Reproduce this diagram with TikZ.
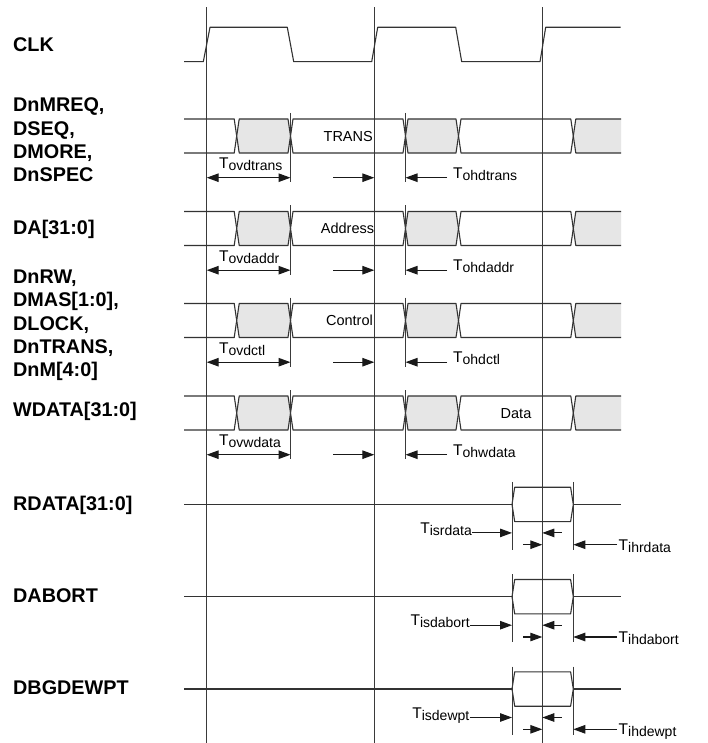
\documentclass[tikz,border=0pt]{standalone}
\usepackage{fontspec}
\setmainfont{Liberation Sans}
\usetikzlibrary{arrows.meta}
\definecolor{wave}{HTML}{333333}
\definecolor{busgray}{HTML}{E6E6E6}
\definecolor{guide}{HTML}{3A3A3A}
\newcommand\Tsub[1]{T\raisebox{-2pt}{\fontsize{14}{16}\selectfont #1}}
\begin{document}
\begin{tikzpicture}[x=1pt,y=-1pt,
  sig/.style={font=\fontsize{19.8}{23.3}\selectfont\bfseries, inner sep=0pt, align=left},
  wv/.style={draw=wave, line width=1.1pt, line join=round},
  guideline/.style={draw=guide, line width=0.9pt},
  tip/.tip={Triangle[length=12pt,width=8.5pt]},
  dim/.style={draw=black!90, line width=1.1pt, -tip},
  dimboth/.style={draw=black!90, line width=1.1pt, tip-tip},
  tlab/.style={inner sep=0pt, font=\fontsize{15.5}{18}\selectfont},
  val/.style={inner sep=0pt, font=\fontsize{14.5}{17}\selectfont},
]
\fill[white] (0,0) rectangle (707,743);
\useasboundingbox (0,0) rectangle (707,743);

% clock edge reference lines
\foreach \x/\n in {206.7/1,374.3/2,542.3/3}{
  \coordinate (ct\n) at (\x,7.3);
  \coordinate (cb\n) at (\x,743);
  \draw[guideline] (ct\n) -- (cb\n);
}

% signal names
\node[sig, anchor=base west] (lclk) at (13,52) {CLK};
\node[sig, anchor=north west] (lreq) at (13,97.7) {DnMREQ,\\DSEQ,\\DMORE,\\DnSPEC};
\node[sig, anchor=base west] (lda) at (13,234) {DA[31:0]};
\node[sig, anchor=north west] (lrw) at (13,269.7) {DnRW,\\DMAS[1:0],\\DLOCK,\\DnTRANS,\\DnM[4:0]};
\node[sig, anchor=base west] (lwd) at (13,416) {WDATA[31:0]};
\node[sig, anchor=base west] (lrd) at (13,510.7) {RDATA[31:0]};
\node[sig, anchor=base west] (lab) at (13,602.7) {DABORT};
\node[sig, anchor=base west] (ldbg) at (13,694) {DBGDEWPT};

% CLK waveform
\draw[wv] (184,61.7) -- (203.3,61.7) -- (210,27.3) -- (287.3,27.3) -- (293.7,61.7)
  -- (371.7,61.7) -- (377.7,27.3) -- (455.7,27.3) -- (461.7,61.7)
  -- (540,61.7) -- (545.7,27.3) -- (620.7,27.3);

% bus rows
\foreach \yt/\ov/\oh [count=\i] in {119/ovdtrans/ohdtrans, 211.5/ovdaddr/ohdaddr, 303.5/ovdctl/ohdctl, 396/ovwdata/ohwdata}{
  \pgfmathsetmacro\ym{\yt+17}
  \pgfmathsetmacro\yb{\yt+34}
  \pgfmathsetmacro\ya{\yt+58.7}
  \pgfmathsetmacro\tt{\yt-6}
  \pgfmathsetmacro\tb{\yt+63}
  \draw[wv] (184,\yt) -- (234.2,\yt) -- (236.7,\ym) -- (234.2,\yb) -- (184,\yb);
  \filldraw[wv, fill=busgray] (236.7,\ym) -- (239.2,\yt) -- (288,\yt) -- (290.5,\ym) -- (288,\yb) -- (239.2,\yb) -- cycle;
  \draw[wv] (290.5,\ym) -- (293,\yt) -- (403,\yt) -- (405.5,\ym) -- (403,\yb) -- (293,\yb) -- cycle;
  \filldraw[wv, fill=busgray] (405.5,\ym) -- (408,\yt) -- (456,\yt) -- (458.5,\ym) -- (456,\yb) -- (408,\yb) -- cycle;
  \draw[wv] (458.5,\ym) -- (461,\yt) -- (570.8,\yt) -- (573.3,\ym) -- (570.8,\yb) -- (461,\yb) -- cycle;
  \fill[busgray] (621,\yt) -- (575.8,\yt) -- (573.3,\ym) -- (575.8,\yb) -- (621,\yb) -- cycle;
  \draw[wv] (621,\yt) -- (575.8,\yt) -- (573.3,\ym) -- (575.8,\yb) -- (621,\yb);
  % timing ticks
  \coordinate (tkA\i) at (290.5,\tt); \coordinate (tkAb\i) at (290.5,\tb);
  \coordinate (tkB\i) at (405.5,\tt); \coordinate (tkBb\i) at (405.5,\tb);
  \draw[guideline] (tkA\i) -- (tkAb\i);
  \draw[guideline] (tkB\i) -- (tkBb\i);
  % timing arrows
  \coordinate (ovL\i) at (206.7,\ya);
  \coordinate (ovR\i) at (290.5,\ya);
  \draw[dimboth] (ovL\i) -- (ovR\i);
  \coordinate (sr\i) at (333,\ya);
  \draw[dim] (sr\i) -- (sr\i -| ct2);
  \coordinate (hl\i) at (447,\ya);
  \draw[dim] (hl\i) -- (hl\i -| tkB\i);
  \node[tlab, anchor=base west] (ov\i) at (219,\ya-9) {\Tsub{\ov}};
  \node[tlab, anchor=base west] (oh\i) at (453,\ya+0.5) {\Tsub{\oh}};
}

% values inside buses
\node[val, anchor=base east] (vtrans) at (373,141.3) {TRANS};
\node[val, anchor=base east] (vaddr) at (374.3,233.8) {Address};
\node[val, anchor=base east] (vctl) at (373,325.8) {Control};
\node[val, anchor=base] (vdata) at (516,418.3) {Data};

% input rows
\foreach \L/\is/\ih/\sx [count=\i] in {504.4/isrdata/ihrdata/472, 596.7/isdabort/ihdabort/470, 689/isdewpt/ihdewpt/469.5}{
  \pgfmathsetmacro\aa{\L+28.5}
  \pgfmathsetmacro\ab{\L+40.3}
  \draw[wv] (184,\L) -- (512,\L);
  \draw[wv] (512,\L) -- (514.7,\L-17.2) -- (570.6,\L-17.2) -- (573.3,\L) -- (570.6,\L+17.2) -- (514.7,\L+17.2) -- cycle;
  \draw[wv] (573.3,\L) -- (621,\L);
  \coordinate (sL\i) at (512,\L-22.5); \coordinate (sLb\i) at (512,\L+45.5);
  \coordinate (sR\i) at (573.3,\L-22.5); \coordinate (sRb\i) at (573.3,\L+45.5);
  \draw[guideline] (sL\i) -- (sLb\i);
  \draw[guideline] (sR\i) -- (sRb\i);
  \node[tlab, anchor=base east] (is\i) at (\sx,\L+29) {\Tsub{\is}};
  \coordinate (isa\i) at (\sx,\aa);
  \draw[dim] (isa\i) -- (isa\i -| sL\i);
  \coordinate (sml\i) at (561.7,\aa);
  \draw[dim] (sml\i) -- (sml\i -| ct3);
  \coordinate (smr\i) at (523,\ab);
  \draw[dim] (smr\i) -- (smr\i -| ct3);
  \coordinate (iha\i) at (617,\ab);
  \draw[dim] (iha\i) -- (iha\i -| sR\i);
  \node[tlab, anchor=base west] (ih\i) at (618.5,\L+45.7) {\Tsub{\ih}};
}
\end{tikzpicture}
\end{document}
